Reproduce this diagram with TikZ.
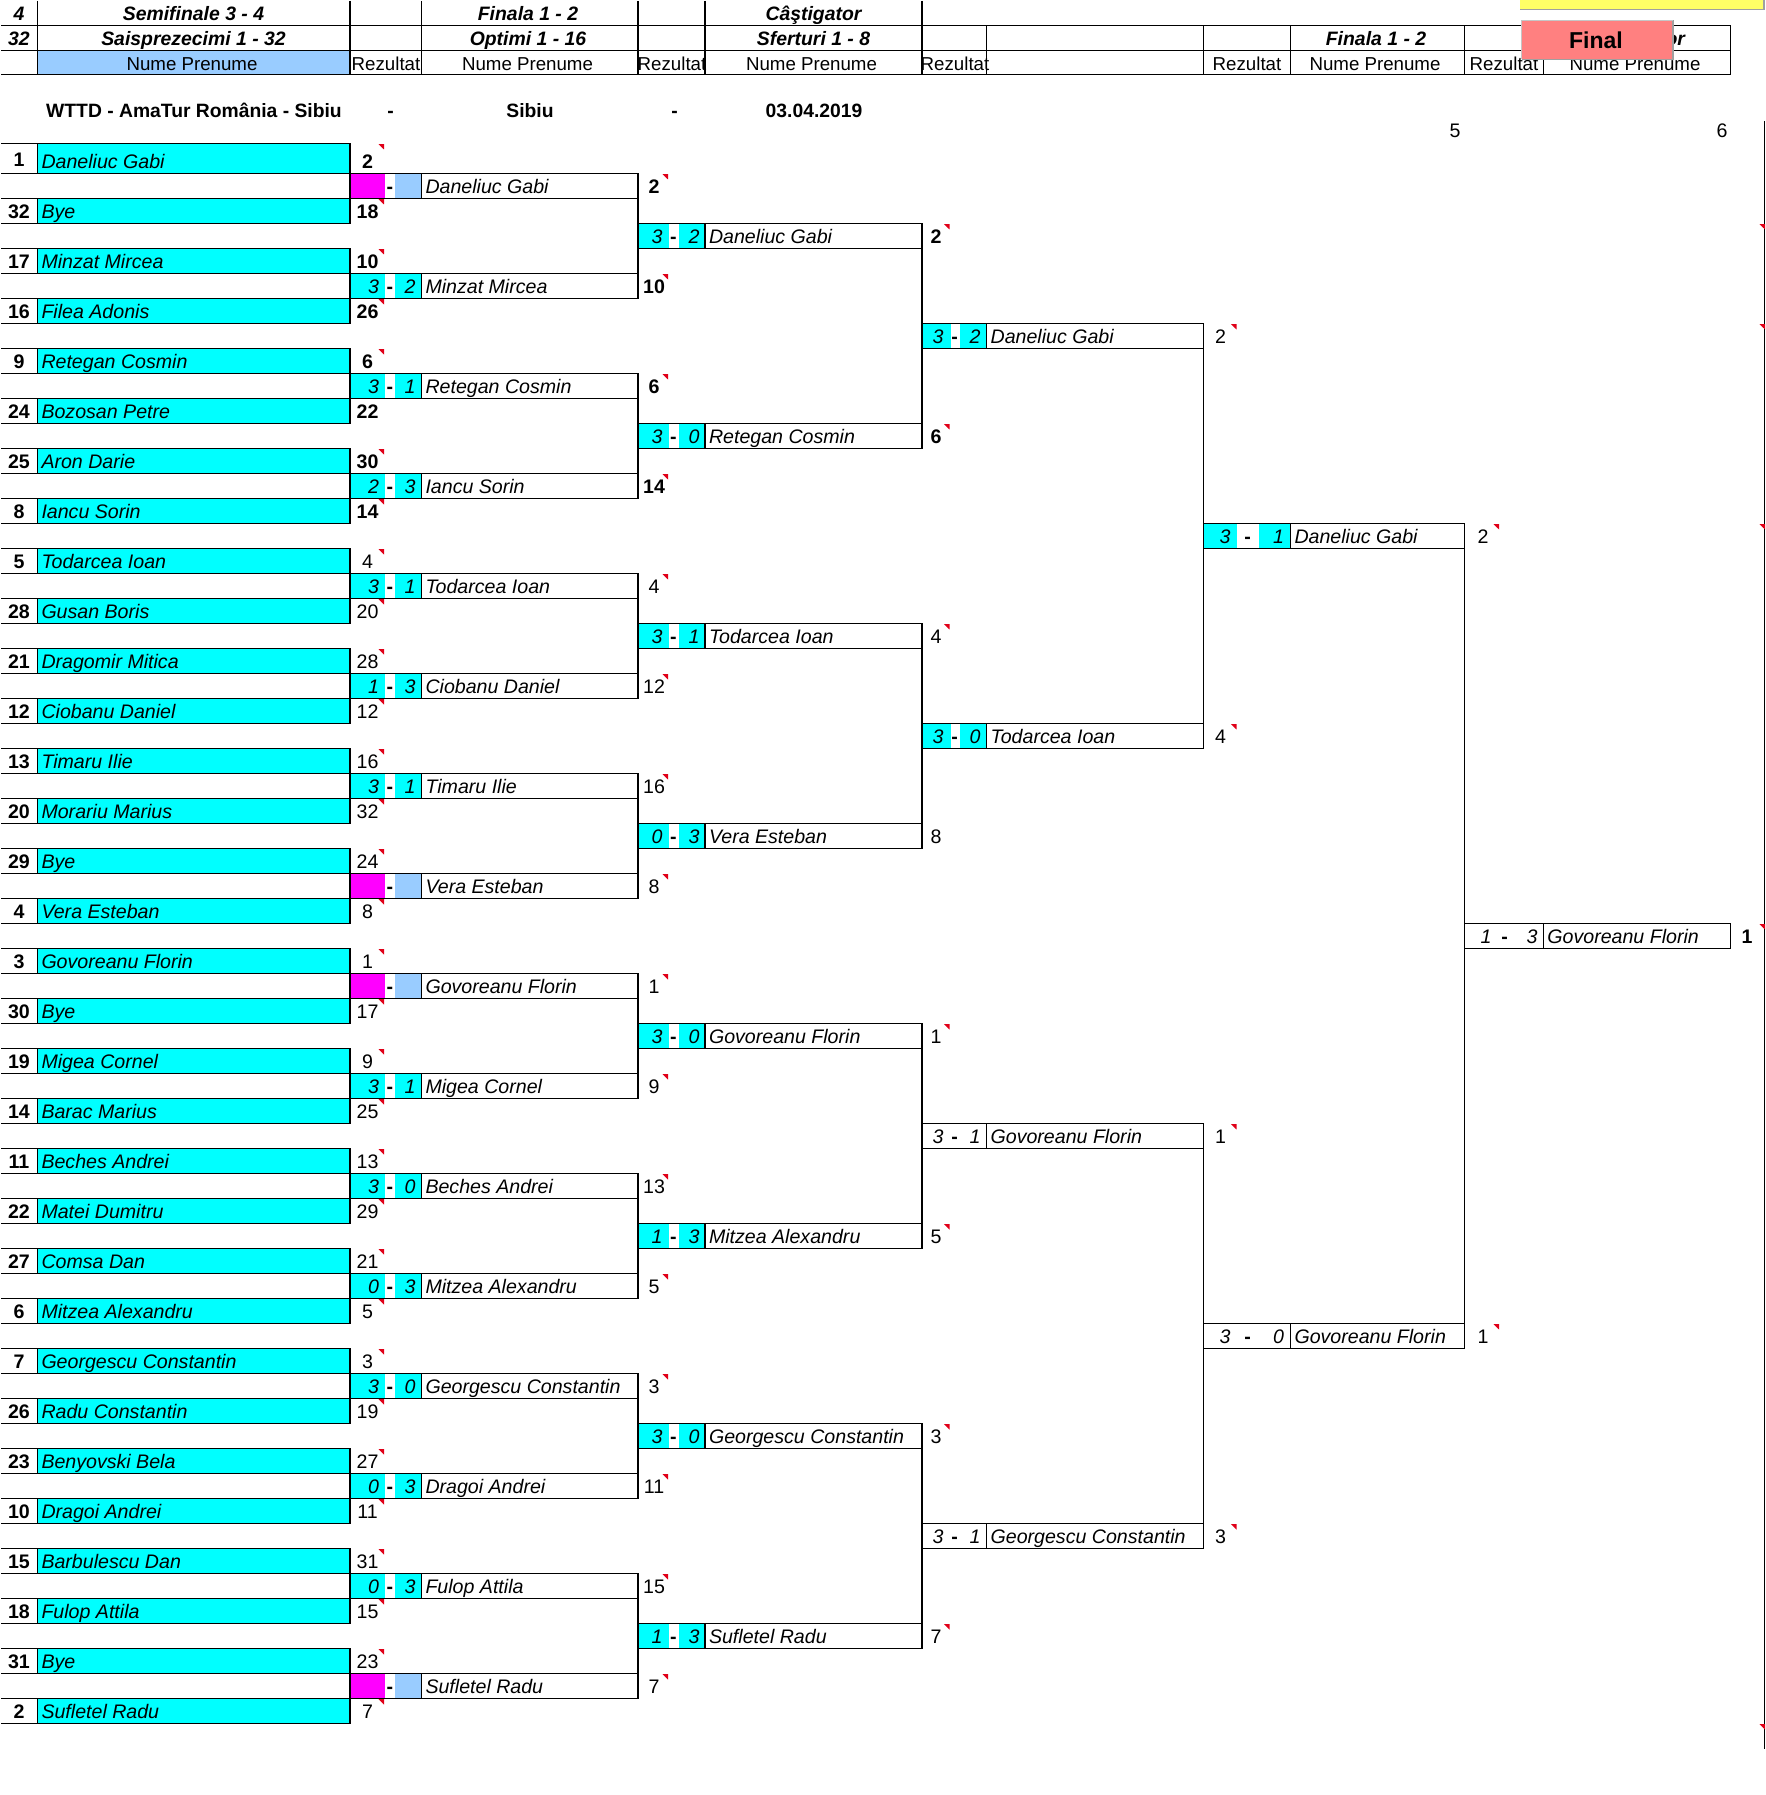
\documentclass[tikz,border=0pt]{standalone}
\usepackage{fontspec}
\setmainfont{Liberation Sans}
\definecolor{cy}{HTML}{00FFFF}
\definecolor{mag}{HTML}{FF00FF}
\definecolor{lb}{HTML}{99CCFF}
\definecolor{cmark}{HTML}{E00018}
\definecolor{btn}{HTML}{FF8080}
\definecolor{ylw}{HTML}{FFFF66}
\definecolor{shd}{HTML}{A0A0A0}
\tikzset{
  ln/.style={line width=1.1pt,black},
  cellbox/.style={draw=black,line width=1.1pt,rectangle,inner sep=0pt,outer sep=0pt,anchor=north west},
  txt/.style={inner sep=0pt,outer sep=0pt,font=\fontsize{19.6}{24}\selectfont},
  hdr/.style={inner sep=0pt,outer sep=0pt,anchor=base,font=\fontsize{19.4}{24}\selectfont\bfseries\itshape},
  sub/.style={inner sep=0pt,outer sep=0pt,anchor=base,font=\fontsize{18.7}{24}\selectfont},
  info/.style={inner sep=0pt,outer sep=0pt,anchor=base,font=\fontsize{19.3}{24}\selectfont\bfseries},
  fillL-c/.style={fill=cy},fillR-c/.style={fill=cy},
  fillL-m/.style={fill=mag},fillR-m/.style={fill=lb},
  fillL-w/.style={},fillR-w/.style={},
}
\newcommand\redmark[2]{\fill[cmark] ({#1-5.5},{#2+0.8}) -- ({#1},{#2+0.8}) -- ({#1},{#2+6.2}) -- cycle;}
% #1 id, #2 row, #3 left score, #4 right score, #5 player, #6 result, #7 result font, #8 colour code, #9 mark flag
\newcommand\matchbox[9]{%
  \pgfmathsetmacro\yb{173.3+25*#2}%
  \pgfmathsetmacro\yt{\yb-25}%
  \pgfmathsetmacro\wid{\xr-\xl}%
  \path[fillL-#8] (\xl,\yt) rectangle (\xa,\yb);
  \path[fillR-#8] (\xb,\yt) rectangle (\xd,\yb);
  \node[cellbox,minimum width=\wid pt,minimum height=25pt] (#1) at (\xl,\yt) {};
  \draw[ln] (\xd,\yt) -- (\xd,\yb);
  \node[txt,anchor=base east] (#1-sl) at (\sl,\yb-4.6) {\itshape #3};
  \node[txt,anchor=base] (#1-ds) at (\ds,\yb-4.6) {\bfseries -};
  \node[txt,anchor=base east] (#1-sr) at (\sr,\yb-4.6) {\itshape #4};
  \node[txt,anchor=base west] (#1-nm) at (\xd+4,\yb-4.6) {\itshape #5};
  \node[txt,anchor=base] (#1-rs) at (\xres,\yb-4.6) {#7#6};
  \ifnum#9=1 \redmark{\xtri}{\yt}\fi
}
\begin{document}
\begin{tikzpicture}[x=1pt,y=-1pt]
\useasboundingbox (0,0) rectangle (1765,1795);
% ---------- header ----------
\fill[lb] (37.6,50.7) rectangle (350,74.3);
\foreach \yy in {25.3,50.7,74.3} \draw[ln] (1,\yy) -- (1730.7,\yy);
\foreach \xx in {37.6,350,421.5,638,705,922} \draw[ln] (\xx,1) -- (\xx,74.3);
\foreach \xx in {986.6,1203.4,1290.5,1464.5,1543.4,1730.7} \draw[ln] (\xx,25.3) -- (\xx,74.3);
\node[hdr] (h4) at (19,21) {4};
\node[hdr] (h32) at (19,46) {32};
\node[hdr] (ha1) at (193.5,21) {Semifinale 3 - 4};
\node[hdr] (ha2) at (193.5,46) {Saisprezecimi 1 - 32};
\node[hdr] (hb1) at (528,21) {Finala 1 - 2};
\node[hdr] (hb2) at (528,46) {Optimi 1 - 16};
\node[hdr] (hc1) at (813.5,21) {Câştigator};
\node[hdr] (hc2) at (813.5,46) {Sferturi 1 - 8};
\node[hdr] (hd2) at (1376,46) {Finala 1 - 2};
\node[hdr] (he2) at (1637,46) {Câştigator};
\node[sub] (n1) at (192,70.6) {Nume Prenume};
\node[sub] (n2) at (527.5,70.6) {Nume Prenume};
\node[sub] (n3) at (811.5,70.6) {Nume Prenume};
\node[sub] (n4) at (1375,70.6) {Nume Prenume};
\node[sub] (n5) at (1635,70.6) {Nume Prenume};
\node[sub] (z1) at (386,70.6) {Rezultat};
\node[sub] (z2) at (672,70.6) {Rezultat};
\node[sub] (z3) at (955,70.6) {Rezultat};
\node[sub] (z4) at (1247,70.6) {Rezultat};
\node[sub] (z5) at (1504,70.6) {Rezultat};
% ---------- info line ----------
\node[info] (i1) at (194,118) {WTTD - AmaTur România - Sibiu};
\node[info] (i2) at (390.5,118) {-};
\node[info] (i3) at (530,118) {Sibiu};
\node[info] (i4) at (674.5,118) {-};
\node[info] (i5) at (814,118) {03.04.2019};
\node[txt,anchor=base] (i6) at (1455,138) {5};
\node[txt,anchor=base] (i7) at (1722,138) {6};
% ---------- round 1 ----------
\foreach \i/\rk/\nm/\rs/\fo/\tr in {
 1/1/Daneliuc Gabi/2/\bfseries/1, 2/32/Bye/18/\bfseries/1, 3/17/Minzat Mircea/10/\bfseries/1, 4/16/Filea Adonis/26/\bfseries/1,
 5/9/Retegan Cosmin/6/\bfseries/1, 6/24/Bozosan Petre/22/\bfseries/0, 7/25/Aron Darie/30/\bfseries/1, 8/8/Iancu Sorin/14/\bfseries/1,
 9/5/Todarcea Ioan/4/\mdseries/1, 10/28/Gusan Boris/20/\mdseries/1, 11/21/Dragomir Mitica/28/\mdseries/1, 12/12/Ciobanu Daniel/12/\mdseries/1,
 13/13/Timaru Ilie/16/\mdseries/1, 14/20/Morariu Marius/32/\mdseries/1, 15/29/Bye/24/\mdseries/1, 16/4/Vera Esteban/8/\mdseries/1,
 17/3/Govoreanu Florin/1/\mdseries/1, 18/30/Bye/17/\mdseries/1, 19/19/Migea Cornel/9/\mdseries/1, 20/14/Barac Marius/25/\mdseries/1,
 21/11/Beches Andrei/13/\mdseries/1, 22/22/Matei Dumitru/29/\mdseries/1, 23/27/Comsa Dan/21/\mdseries/1, 24/6/Mitzea Alexandru/5/\mdseries/1,
 25/7/Georgescu Constantin/3/\mdseries/1, 26/26/Radu Constantin/19/\mdseries/1, 27/23/Benyovski Bela/27/\mdseries/1, 28/10/Dragoi Andrei/11/\mdseries/1,
 29/15/Barbulescu Dan/31/\mdseries/1, 30/18/Fulop Attila/15/\mdseries/1, 31/31/Bye/23/\mdseries/1, 32/2/Sufletel Radu/7/\mdseries/1}{
  \pgfmathsetmacro\yb{173.3+50*(\i-1)}
  \pgfmathsetmacro\hh{ifthenelse(\i==1,30,25)}
  \pgfmathsetmacro\yt{\yb-\hh}
  \pgfmathsetmacro\rkoff{ifthenelse(\i==1,7,4.6)}
  \node[cellbox,fill=cy,minimum width=312.4pt,minimum height=\hh pt] (r1-\i) at (37.6,\yt) {};
  \coordinate (rk-\i-a) at (1,\yt);
  \coordinate (rk-\i-b) at (1,\yb);
  \draw[ln] (rk-\i-a) -- (r1-\i.north west);
  \draw[ln] (rk-\i-b) -- (r1-\i.south west);
  \node[txt,anchor=base] (rk-\i) at (19,\yb-\rkoff) {\bfseries \rk};
  \node[txt,anchor=base west] (nm-\i) at (41.5,\yb-4.6) {\itshape \nm};
  \node[txt,anchor=base] (rs-\i) at (367.5,\yb-4.6) {\fo \rs};
  \ifnum\tr=1 \redmark{384}{\yt}\fi
}
% ---------- round 2 ----------
\def\xl{350}\def\xa{385}\def\xb{395}\def\xd{421.5}\def\xr{638}\def\sl{379}\def\ds{390}\def\sr{415.5}\def\xres{654}\def\xtri{668}
\matchbox{r2-1}{1}{}{}{Daneliuc Gabi}{2}{\bfseries}{m}{1}
\matchbox{r2-2}{5}{3}{2}{Minzat Mircea}{10}{\bfseries}{c}{1}
\matchbox{r2-3}{9}{3}{1}{Retegan Cosmin}{6}{\bfseries}{c}{1}
\matchbox{r2-4}{13}{2}{3}{Iancu Sorin}{14}{\bfseries}{c}{1}
\matchbox{r2-5}{17}{3}{1}{Todarcea Ioan}{4}{}{c}{1}
\matchbox{r2-6}{21}{1}{3}{Ciobanu Daniel}{12}{}{c}{1}
\matchbox{r2-7}{25}{3}{1}{Timaru Ilie}{16}{}{c}{1}
\matchbox{r2-8}{29}{}{}{Vera Esteban}{8}{}{m}{1}
\matchbox{r2-9}{33}{}{}{Govoreanu Florin}{1}{}{m}{1}
\matchbox{r2-10}{37}{3}{1}{Migea Cornel}{9}{}{c}{1}
\matchbox{r2-11}{41}{3}{0}{Beches Andrei}{13}{}{c}{1}
\matchbox{r2-12}{45}{0}{3}{Mitzea Alexandru}{5}{}{c}{1}
\matchbox{r2-13}{49}{3}{0}{Georgescu Constantin}{3}{}{c}{1}
\matchbox{r2-14}{53}{0}{3}{Dragoi Andrei}{11}{}{c}{1}
\matchbox{r2-15}{57}{0}{3}{Fulop Attila}{15}{}{c}{1}
\matchbox{r2-16}{61}{}{}{Sufletel Radu}{7}{}{m}{1}
% ---------- round 3 ----------
\def\xl{638}\def\xa{669}\def\xb{679}\def\xd{705}\def\xr{922}\def\sl{662.5}\def\ds{673.5}\def\sr{699.5}\def\xres{936}\def\xtri{949.5}
\matchbox{r3-1}{3}{3}{2}{Daneliuc Gabi}{2}{\bfseries}{c}{1}
\matchbox{r3-2}{11}{3}{0}{Retegan Cosmin}{6}{\bfseries}{c}{1}
\matchbox{r3-3}{19}{3}{1}{Todarcea Ioan}{4}{}{c}{1}
\matchbox{r3-4}{27}{0}{3}{Vera Esteban}{8}{}{c}{0}
\matchbox{r3-5}{35}{3}{0}{Govoreanu Florin}{1}{}{c}{1}
\matchbox{r3-6}{43}{1}{3}{Mitzea Alexandru}{5}{}{c}{1}
\matchbox{r3-7}{51}{3}{0}{Georgescu Constantin}{3}{}{c}{1}
\matchbox{r3-8}{59}{1}{3}{Sufletel Radu}{7}{}{c}{1}
% ---------- round 4 ----------
\def\xl{922}\def\xa{950.5}\def\xb{960}\def\xd{986.6}\def\xr{1203.4}\def\sl{943.5}\def\ds{954.5}\def\sr{980.5}\def\xres{1220.5}\def\xtri{1236.5}
\matchbox{r4-1}{7}{3}{2}{Daneliuc Gabi}{2}{}{c}{1}
\matchbox{r4-2}{23}{3}{0}{Todarcea Ioan}{4}{}{c}{1}
\matchbox{r4-3}{39}{3}{1}{Govoreanu Florin}{1}{}{w}{1}
\matchbox{r4-4}{55}{3}{1}{Georgescu Constantin}{3}{}{w}{1}
% ---------- round 5 ----------
\def\xl{1203.4}\def\xa{1237}\def\xb{1259}\def\xd{1290.5}\def\xr{1464.5}\def\sl{1230.5}\def\ds{1247.5}\def\sr{1284}\def\xres{1483}\def\xtri{1499}
\matchbox{r5-1}{15}{3}{1}{Daneliuc Gabi}{2}{}{c}{1}
\matchbox{r5-2}{47}{3}{0}{Govoreanu Florin}{1}{}{w}{1}
% ---------- final ----------
\def\xl{1464.5}\def\xa{1500}\def\xb{1510}\def\xd{1543.4}\def\xr{1730.7}\def\sl{1491.6}\def\ds{1504.5}\def\sr{1537.5}\def\xres{1747}\def\xtri{1765}
\matchbox{r6-1}{31}{1}{3}{Govoreanu Florin}{1}{\bfseries}{w}{0}
% ---------- connectors ----------
\foreach \a/\b in {1/2,3/4,5/6,7/8,9/10,11/12,13/14,15/16,17/18,19/20,21/22,23/24,25/26,27/28,29/30,31/32}
  \draw[ln] (r1-\a.north east) -- (r1-\b.south east);
\foreach \a/\b in {1/2,3/4,5/6,7/8,9/10,11/12,13/14,15/16}
  \draw[ln] (r2-\a.north east) -- (r2-\b.south east);
\foreach \a/\b in {1/2,3/4,5/6,7/8}
  \draw[ln] (r3-\a.north east) -- (r3-\b.south east);
\foreach \a/\b in {1/2,3/4}
  \draw[ln] (r4-\a.north east) -- (r4-\b.south east);
\draw[ln] (r5-1.north east) -- (r5-2.south east);
% ---------- right edge ----------
\coordinate (edgeA) at (1764.2,121);
\coordinate (edgeB) at (1764.2,1749);
\draw[ln] (edgeA) -- (edgeB);
\foreach \yy in {223.3,323.3,523.3,923.3,1723.3} {\redmark{1765}{\yy}}
% ---------- sheet buttons ----------
\fill[ylw] (1520,-1) rectangle (1763,9);
\draw[shd,line width=1.6pt] (1520,9.5) -- (1764,9.5) -- (1764,-1);
\node[rectangle,fill=btn,inner sep=0pt,outer sep=0pt,minimum width=151.5pt,minimum height=39.5pt,anchor=north west] (final) at (1521.5,20) {};
\draw[shd,line width=1.4pt] (final.south west) -- (final.south east) -- (final.north east);
\draw[shd!60,line width=0.7pt] (final.south west) -- (final.north west) -- (final.north east);
\node[inner sep=0pt,anchor=base,font=\fontsize{23}{26}\selectfont\bfseries] (finalt) at (1596,48.3) {Final};
\end{tikzpicture}
\end{document}
